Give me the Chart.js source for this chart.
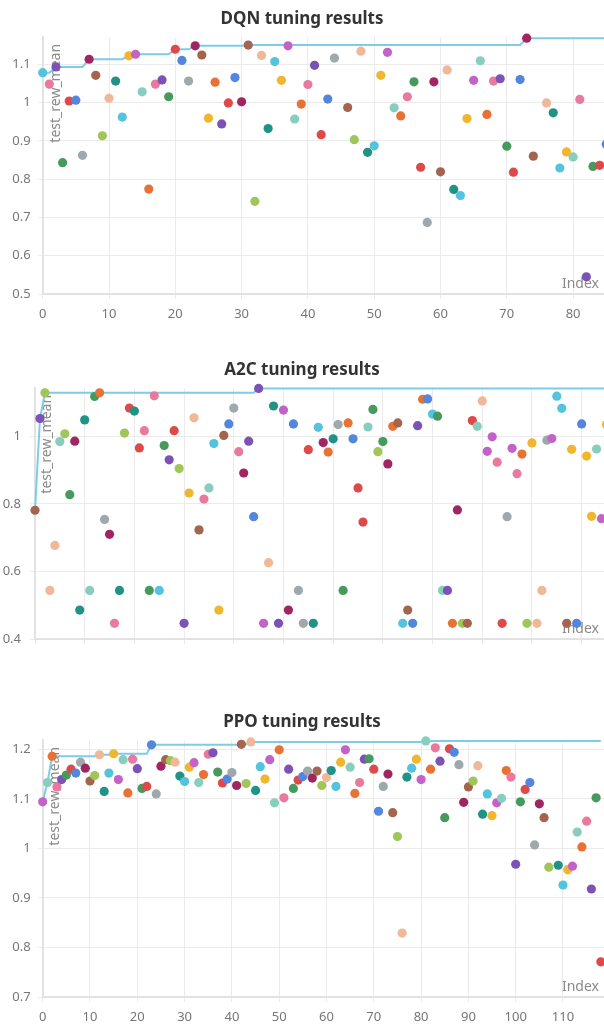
<!DOCTYPE html>
<html><head><meta charset="utf-8">
<script src="https://cdn.jsdelivr.net/npm/chart.js@4"></script>
<style>
html,body{margin:0;padding:0;background:#fff;width:604px;height:1025px;overflow:hidden;}
canvas{position:absolute;left:0;}
</style></head><body>
<canvas id="dqn" width="604" height="334" style="top:0px"></canvas>
<canvas id="a2c" width="604" height="305" style="top:351px"></canvas>
<canvas id="ppo" width="604" height="322" style="top:703px"></canvas>
<script>
// ---------- DATA ----------
const dqnIndex = [0,1,2,3,4,5,6,7,8,9,10,11,12,13,14,15,16,17,18,19,20,21,22,23,24,25,26,27,28,29,30,31,32,33,34,35,36,37,38,39,40,41,42,43,44,46,47,48,49,50,51,52,53,54,55,56,57,58,59,60,61,62,63,64,65,66,67,68,69,70,71,72,73,74,76,77,78,79,80,81,82,83,84,85];
const dqnReward = [1.078,1.048,1.093,0.843,1.004,1.006,0.862,1.113,1.071,0.913,1.011,1.056,0.962,1.122,1.126,1.028,0.774,1.048,1.059,1.015,1.139,1.110,1.056,1.148,1.124,0.959,1.053,0.944,0.999,1.065,1.002,1.150,0.742,1.123,0.932,1.107,1.058,1.148,0.957,0.996,1.047,1.097,0.916,1.009,1.116,0.987,0.903,1.134,0.870,0.887,1.071,1.131,0.986,0.965,1.015,1.054,0.831,0.687,1.054,0.819,1.085,0.773,0.757,0.958,1.058,1.109,0.969,1.056,1.062,0.886,0.818,1.060,1.168,0.860,0.999,0.973,0.829,0.871,0.858,1.008,0.545,0.833,0.836,0.891];
const dqnXTicks = [0,10,20,30,40,50,60,70,80];
const dqnYTicks = [0.5,0.6,0.7,0.8,0.9,1.0,1.1];

const a2cIndex = [0,1,2,3,4,5,6,7,8,9,10,11,12,13,14,15,16,17,18,19,20,21,22,23,24,25,26,27,28,29,30,31,32,33,34,35,36,37,38,39,40,41,42,43,44,45,46,47,48,49,50,51,52,53,54,55,56,57,58,59,60,61,62,63,64,65,66,67,68,69,70,71,72,73,74,75,76,77,78,79,80,81,82,83,84,85,86,87,88,89,90,91,92,93,94,95,96,97,98,99,100,101,102,103,104,105,106,107,108,109,110,111,112,113,114,115];
const a2cReward = [0.781,1.052,1.128,0.544,0.677,0.984,1.007,0.827,0.985,0.486,1.048,0.544,1.117,1.128,0.754,0.710,0.447,0.544,1.009,1.083,1.074,0.965,1.016,0.544,1.119,0.544,0.972,0.930,1.016,0.904,0.447,0.832,1.054,0.723,0.814,0.847,0.978,0.486,1.002,1.036,1.083,0.954,0.891,0.985,0.762,1.141,0.447,0.626,1.089,0.447,1.077,0.486,1.036,0.544,0.447,0.960,0.447,1.026,0.981,0.953,0.992,1.034,0.544,1.039,0.992,0.847,0.746,1.027,1.079,0.954,0.984,0.918,1.029,1.039,0.447,0.486,0.447,1.031,1.109,1.110,1.065,1.059,0.544,0.544,0.447,0.782,0.447,0.447,1.046,1.029,1.104,0.955,0.998,0.923,0.447,0.762,0.964,0.889,0.947,0.447,0.980,0.447,0.544,0.988,0.993,1.118,1.082,0.447,0.961,0.447,1.036,0.941,0.763,0.962,0.756,1.034];
const a2cXTicks = [0,10,20,30,40,50,60,70,80,90,100,110];
const a2cYTicks = [0.4,0.6,0.8,1.0];

const ppoIndex = [0,1,2,3,4,5,6,7,8,9,10,11,12,13,14,15,16,17,18,19,20,21,22,23,24,25,26,27,28,29,30,31,32,33,34,35,36,37,38,39,40,41,42,43,44,45,46,47,48,49,50,51,52,53,54,55,56,57,58,59,60,61,62,63,64,65,66,67,68,69,70,71,72,73,74,75,76,77,78,79,80,81,82,83,84,85,86,87,88,89,90,91,92,93,94,95,96,97,98,99,100,101,102,103,104,105,106,107,109,110,111,112,113,114,115,116,117,118];
const ppoReward = [1.094,1.133,1.186,1.124,1.139,1.148,1.160,1.152,1.174,1.162,1.136,1.147,1.189,1.115,1.152,1.191,1.139,1.179,1.112,1.180,1.161,1.121,1.125,1.209,1.110,1.166,1.179,1.177,1.174,1.146,1.135,1.164,1.173,1.133,1.149,1.190,1.193,1.154,1.132,1.140,1.153,1.127,1.210,1.131,1.215,1.117,1.165,1.140,1.179,1.092,1.199,1.102,1.160,1.121,1.138,1.145,1.156,1.142,1.156,1.127,1.143,1.157,1.125,1.174,1.199,1.164,1.111,1.133,1.180,1.181,1.160,1.075,1.125,1.150,1.072,1.024,0.829,1.144,1.162,1.180,1.139,1.217,1.160,1.203,1.176,1.062,1.201,1.194,1.169,1.093,1.124,1.136,1.167,1.069,1.110,1.066,1.092,1.101,1.157,1.144,0.968,1.094,1.119,1.133,1.007,1.090,1.062,0.962,0.966,0.926,0.957,0.964,1.033,1.003,1.055,0.918,1.102,0.771];
const ppoXTicks = [0,10,20,30,40,50,60,70,80,90,100,110];
const ppoYTicks = [0.7,0.8,0.9,1.0,1.1,1.2];

// ---------- STYLES ----------
const PALETTE = {
  cy:'#54c3de', pk:'#e97a9e', pu:'#7c52b6', gn:'#479a5e', rd:'#de4a4a', bl:'#5386dd',
  gy:'#a0a8ac', mr:'#a02662', br:'#a3654e', li:'#a0c65a', pe:'#f0b898', te:'#209286',
  ye:'#f0b62d', mg:'#c463c7', mi:'#88cebe', or:'#e87236'
};
const dqnColors = ['cy','pk','pu','gn','rd','bl','gy','mr','br','li','pe','te','cy','ye','mg','mi','or','pk','pu','gn','rd','bl','gy','mr','br','ye','or','pu','rd','bl','mr','br','li','pe','te','cy','ye','mg','mi','or','pk','pu','rd','bl','gy','br','li','pe','te','cy','ye','mg','mi','or','pk','gn','rd','gy','mr','br','pe','te','cy','ye','mg','mi','or','pk','pu','gn','rd','bl','mr','br','pe','te','cy','ye','mi','pk','pu','gn','rd','bl'];
const a2cColors = ['br','pu','li','pe','pe','mi','li','gn','mr','te','te','mi','gn','or','gy','mr','pk','te','li','rd','te','rd','pk','gn','pk','cy','gn','pu','rd','li','pu','ye','pe','br','pk','mi','cy','ye','br','bl','gy','pk','mr','pu','bl','pu','mg','pe','te','pu','mg','mr','bl','gy','gy','rd','te','cy','mr','or','te','gy','gn','or','bl','rd','rd','mi','gn','li','gn','mr','or','br','cy','br','bl','pu','or','bl','cy','gn','mi','pu','or','mr','li','br','rd','mi','pe','mg','mg','pk','rd','gy','mg','pk','or','li','ye','pe','pe','gy','mg','cy','cy','br','ye','bl','bl','ye','ye','mi','mg','ye'];
const ppoCycle = ['mg','mi','or','pk','pu','gn','rd','bl','gy','mr','br','li','pe','te','cy','ye'];
const ppoColors = ppoIndex.map(i => ppoCycle[i % 16]);
const LINE_COLOR = '#7dcde8';
const GRID = '#ebebeb';
const AXIS = '#e2e2e2';
const TICK_TEXT = '#767676';

Chart.defaults.font.family = '"Noto Sans", sans-serif';

const axisText = {
  id: 'axisText',
  beforeDatasetsDraw(chart, args, opts) {
    const {ctx, chartArea: a} = chart;
    ctx.save();
    ctx.fillStyle = '#8a8a8a';
    ctx.font = '14px "Noto Sans", sans-serif';
    ctx.translate(a.left + opts.dx, a.top + 6.5);
    ctx.rotate(-Math.PI / 2);
    ctx.textAlign = 'right';
    ctx.textBaseline = 'middle';
    ctx.fillText('test_rew_mean', 0, 0);
    ctx.restore();
    ctx.save();
    ctx.fillStyle = '#8a8a8a';
    ctx.font = '14px "Noto Sans", sans-serif';
    ctx.textAlign = 'right';
    ctx.textBaseline = 'alphabetic';
    ctx.fillText('Index', a.right - 5, a.bottom - 6);
    ctx.restore();
  }
};

function cummax(vals) { let m = -Infinity; return vals.map(v => (m = Math.max(m, v))); }

function makePanel(id, p) {
  const pts = p.index.map((x, k) => ({x: x, y: p.values[k]}));
  const best = cummax(p.values);
  const bestPts = p.index.map((x, k) => ({x: x, y: best[k]}));
  new Chart(document.getElementById(id), {
    type: 'scatter',
    data: { datasets: [
      { data: pts, backgroundColor: p.colors.map(c => PALETTE[c]), borderWidth: 0,
        pointRadius: 4.6, pointHoverRadius: 4.6, clip: false },
      { data: bestPts, showLine: true, borderColor: LINE_COLOR, borderWidth: 2,
        pointRadius: 0, pointHoverRadius: 0, tension: 0, clip: false }
    ]},
    options: {
      responsive: false, animation: false, events: [],
      layout: { padding: 0, autoPadding: false },
      plugins: {
        legend: { display: false }, tooltip: { enabled: false },
        title: { display: true, text: p.title, color: '#333333',
          font: { size: 17, weight: 'bold' }, padding: { top: 9, bottom: 8 } },
        axisText: { dx: p.titleDx }
      },
      scales: {
        x: {
          type: 'linear', position: 'bottom', min: 0, max: p.xMax,
          afterBuildTicks: s => { s.ticks = p.xTicks.map(v => ({value: v})); },
          afterFit: s => { s.height = p.xAxisH; },
          grid: { color: GRID, tickLength: 5, drawTicks: true },
          border: { color: AXIS, width: 2 },
          ticks: { display: p.showXLabels, color: TICK_TEXT, font: { size: 13 }, padding: 7,
            maxRotation: 0, autoSkip: false, callback: v => String(v) }
        },
        y: {
          type: 'linear', position: 'left', min: p.yMin, max: p.yMax,
          afterBuildTicks: s => { s.ticks = p.yTicks.map(v => ({value: v})); },
          afterFit: s => { s.width = p.yAxisW; },
          grid: { color: GRID, tickLength: 5, drawTicks: true },
          border: { color: AXIS, width: 2 },
          ticks: { color: TICK_TEXT, font: { size: 13 }, padding: p.yPad, autoSkip: false,
            callback: v => String(+Number(v).toFixed(2)) }
        }
      }
    },
    plugins: [axisText]
  });
}

makePanel('dqn', { title: 'DQN tuning results', index: dqnIndex, values: dqnReward, colors: dqnColors,
  xTicks: dqnXTicks, yTicks: dqnYTicks, xMax: 84.66, yMin: 0.5, yMax: 1.17,
  xAxisH: 40, yAxisW: 42.7, yPad: 7, showXLabels: true, titleDx: 13 });
makePanel('a2c', { title: 'A2C tuning results', index: a2cIndex, values: a2cReward, colors: a2cColors,
  xTicks: a2cXTicks, yTicks: a2cYTicks, xMax: 114.5, yMin: 0.4, yMax: 1.141,
  xAxisH: 10, yAxisW: 35, yPad: 9, showXLabels: false, titleDx: 12.5 });
makePanel('ppo', { title: 'PPO tuning results', index: ppoIndex, values: ppoReward, colors: ppoColors,
  xTicks: ppoXTicks, yTicks: ppoYTicks, xMax: 118.67, yMin: 0.7, yMax: 1.218,
  xAxisH: 28, yAxisW: 42.7, yPad: 7, showXLabels: true, titleDx: 12.6 });
</script>
</body></html>
